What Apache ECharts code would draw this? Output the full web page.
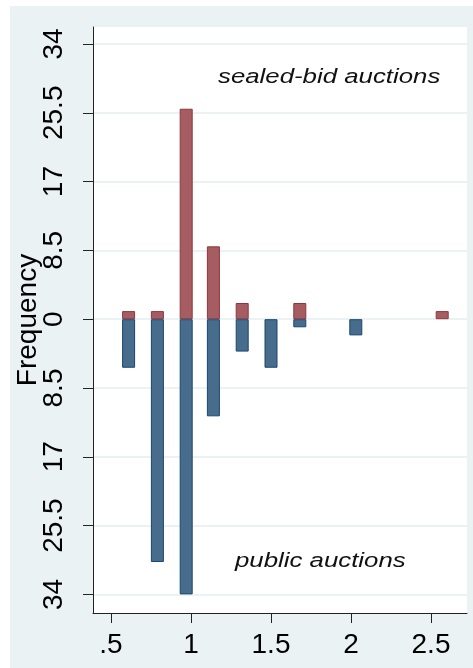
<!DOCTYPE html>
<html>
<head>
<meta charset="utf-8">
<script src="https://cdn.jsdelivr.net/npm/echarts@6/dist/echarts.min.js"></script>
<style>
html,body{margin:0;padding:0;background:#fff;}
#c{position:absolute;left:10px;top:6px;width:463px;height:662px;}
</style>
</head>
<body>
<div id="c"></div>
<script>
// bin centres (x) and frequencies
var sealedX = [0.61, 0.79, 0.97, 1.14, 1.32, 1.68, 2.57];
var sealedFreq = [1, 1, 26, 9, 2, 2, 1];
var publicX = [0.61, 0.79, 0.97, 1.14, 1.32, 1.50, 1.68, 2.03];
var publicFreq = [6, 30, 34, 12, 4, 6, 1, 2];

var xTickValues = [0.5, 1, 1.5, 2, 2.5];
var xTickLabels = ['.5', '1', '1.5', '2', '2.5'];
var yTickValues = [-34, -25.5, -17, -8.5, 0, 8.5, 17, 25.5, 34];
var yTickLabels = ['34', '25.5', '17', '8.5', '0', '8.5', '17', '25.5', '34'];

var sealedData = sealedX.map(function (x, i) { return [x, sealedFreq[i]]; });
var publicData = publicX.map(function (x, i) { return [x, -publicFreq[i]]; });

var FONT = '"Liberation Sans", Arial, sans-serif';
var chart = echarts.init(document.getElementById('c'));
chart.setOption({
  backgroundColor: '#EAF2F3',
  animation: false,
  grid: {
    left: 83, right: 6, top: 21, bottom: 55,
    outerBoundsMode: 'none', containLabel: false,
    show: true, backgroundColor: '#ffffff', borderWidth: 0
  },
  xAxis: {
    type: 'value',
    min: 0.3875, max: 2.725,
    axisLine: { show: true, onZero: false, lineStyle: { color: '#222', width: 1 } },
    axisTick: { show: true, length: 10, customValues: xTickValues, lineStyle: { color: '#222' } },
    axisLabel: {
      customValues: xTickValues,
      margin: 18,
      fontFamily: FONT, fontSize: 28, color: '#000',
      formatter: function (v) {
        var i = xTickValues.indexOf(v);
        return i >= 0 ? xTickLabels[i] : '';
      }
    },
    splitLine: { show: false }
  },
  yAxis: {
    type: 'value',
    min: -36.3, max: 36.1,
    name: 'Frequency',
    nameLocation: 'middle',
    nameGap: 51,
    nameRotate: 90,
    nameMoveOverlap: false,
    nameTextStyle: { fontFamily: FONT, fontSize: 28, color: '#000' },
    axisLine: { show: true, onZero: false, lineStyle: { color: '#222', width: 1 } },
    axisTick: { show: true, length: 10, customValues: yTickValues, lineStyle: { color: '#222' } },
    axisLabel: {
      customValues: yTickValues,
      rotate: 90,
      margin: 25,
      fontFamily: FONT, fontSize: 28, color: '#000',
      formatter: function (v) {
        var i = yTickValues.indexOf(v);
        return i >= 0 ? yTickLabels[i] : '';
      }
    },
    splitLine: { show: true, lineStyle: { color: '#EAF2F3', width: 2 } }
  },
  series: [
    {
      name: 'sealed-bid auctions',
      type: 'bar',
      data: sealedData,
      barWidth: 13,
      barGap: '-100%',
      itemStyle: { color: '#A65D62', borderColor: '#90353B', borderWidth: 1 }
    },
    {
      name: 'public auctions',
      type: 'bar',
      data: publicData,
      barWidth: 13,
      barGap: '-100%',
      itemStyle: { color: '#486C8C', borderColor: '#1A476F', borderWidth: 1 }
    }
  ],
  graphic: [
    {
      type: 'text', x: 208, y: 71, scaleX: 1.29, z: 100,
      style: { text: 'sealed-bid auctions', font: 'italic 20px ' + FONT, fill: '#111',
               textAlign: 'left', textVerticalAlign: 'middle', verticalAlign: 'middle' }
    },
    {
      type: 'text', x: 225, y: 555, scaleX: 1.29, z: 100,
      style: { text: 'public auctions', font: 'italic 20px ' + FONT, fill: '#111',
               textAlign: 'left', textVerticalAlign: 'middle', verticalAlign: 'middle' }
    }
  ]
});
</script>
</body>
</html>
